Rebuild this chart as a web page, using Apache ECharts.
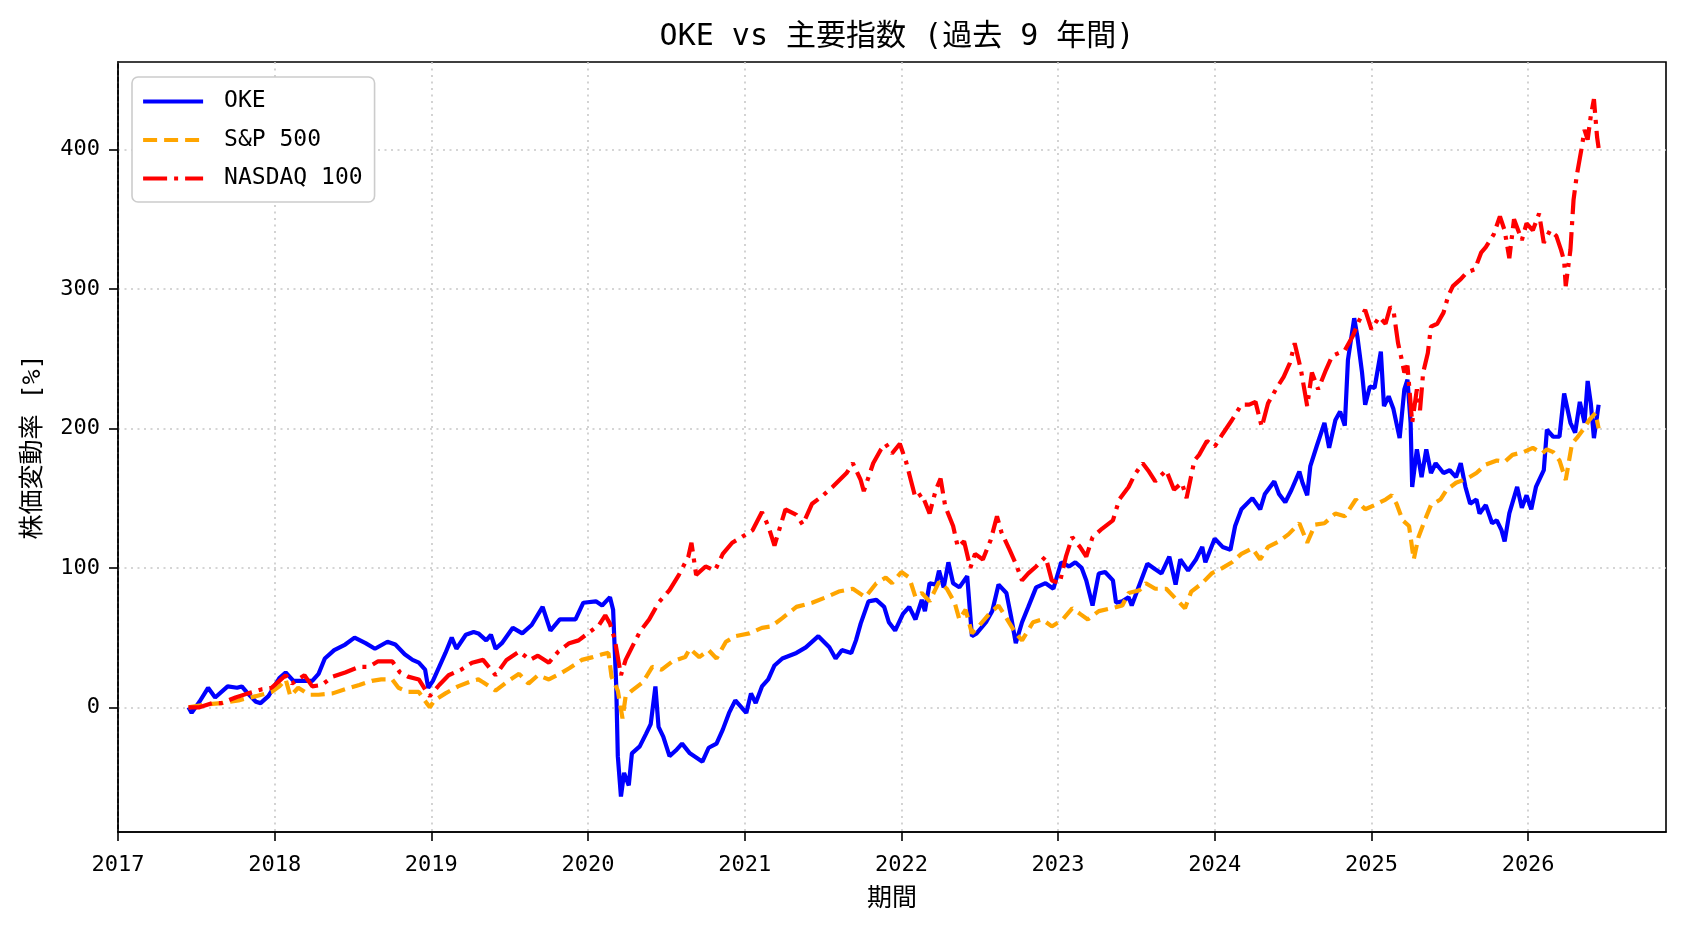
<!DOCTYPE html>
<html>
<head>
<meta charset="utf-8">
<script src="https://cdn.jsdelivr.net/npm/echarts@6/dist/echarts.min.js"></script>
<style>
  html, body { margin: 0; padding: 0; background: #fff; }
  #chart { width: 1688px; height: 932px; }
</style>
</head>
<body>
<div id="chart"></div>
<script>
// x = decimal year, y = % change from start
const yearTicks = [2017, 2018, 2019, 2020, 2021, 2022, 2023, 2024, 2025, 2026];
const valueTicks = [0, 100, 200, 300, 400];

const oke = [
  [2017.45,0],[2017.47,-4],[2017.52,4],[2017.575,14],[2017.62,7],[2017.70,15],[2017.76,14],[2017.79,15],[2017.82,11],[2017.88,4],[2017.91,3],[2017.96,8],
  [2018.03,21],[2018.07,25],[2018.12,19],[2018.17,19],[2018.24,19],[2018.28,24],[2018.32,35],[2018.38,41],[2018.45,45],[2018.51,50],[2018.58,46],[2018.64,42],[2018.72,47],[2018.77,45],[2018.83,38],[2018.88,34],[2018.92,32],[2018.96,27],[2018.98,14],
  [2019.01,19],[2019.05,29],[2019.09,39],[2019.13,50],[2019.16,42],[2019.22,52],[2019.27,54],[2019.30,53],[2019.35,48],[2019.38,52],[2019.41,42],[2019.45,46],[2019.52,57],[2019.58,53],[2019.64,59],[2019.71,72],[2019.76,55],[2019.82,63],[2019.88,63],[2019.92,63],[2019.97,75],
  [2020.05,76],[2020.09,73],[2020.14,79],[2020.16,70],[2020.18,15],[2020.19,-35],[2020.21,-64],[2020.23,-47],[2020.26,-56],[2020.28,-33],[2020.33,-28],[2020.37,-19],[2020.40,-12],[2020.43,15],[2020.45,-14],[2020.48,-21],[2020.52,-35],[2020.56,-31],[2020.60,-26],[2020.65,-33],[2020.73,-39],[2020.77,-29],[2020.82,-26],[2020.86,-16],[2020.90,-4],[2020.94,5],
  [2021.01,-4],[2021.04,10],[2021.07,3],[2021.11,15],[2021.15,20],[2021.19,30],[2021.24,35],[2021.33,39],[2021.39,43],[2021.47,51],[2021.54,43],[2021.58,35],[2021.62,41],[2021.68,39],[2021.71,48],[2021.74,60],[2021.79,76],[2021.84,77],[2021.89,72],[2021.92,61],[2021.96,55],
  [2022.01,67],[2022.05,72],[2022.09,63],[2022.13,77],[2022.15,69],[2022.18,89],[2022.22,88],[2022.24,98],[2022.27,86],[2022.30,104],[2022.33,89],[2022.37,86],[2022.42,94],[2022.45,51],[2022.48,53],[2022.54,61],[2022.58,69],[2022.62,88],[2022.67,82],[2022.70,65],[2022.73,46],[2022.77,61],[2022.81,72],[2022.86,86],[2022.92,89],[2022.97,85],
  [2023.02,104],[2023.07,101],[2023.11,104],[2023.15,100],[2023.18,91],[2023.22,73],[2023.26,96],[2023.30,97],[2023.35,91],[2023.37,75],[2023.41,76],[2023.45,79],[2023.47,73],[2023.52,88],[2023.57,103],[2023.62,99],[2023.66,96],[2023.71,108],[2023.75,88],[2023.78,106],[2023.83,98],[2023.88,106],[2023.92,115],[2023.94,104],
  [2024.00,121],[2024.05,115],[2024.10,113],[2024.13,130],[2024.17,142],[2024.24,150],[2024.29,142],[2024.32,153],[2024.38,162],[2024.41,153],[2024.45,147],[2024.49,156],[2024.54,169],[2024.56,161],[2024.59,152],[2024.61,173],[2024.65,187],[2024.70,204],[2024.73,186],[2024.77,206],[2024.80,212],[2024.83,202],[2024.85,249],[2024.89,279],[2024.91,266],[2024.94,240],[2024.96,217],[2024.99,230],
  [2025.02,229],[2025.06,255],[2025.08,216],[2025.11,223],[2025.14,214],[2025.18,193],[2025.21,228],[2025.23,235],[2025.25,204],[2025.26,158],[2025.29,185],[2025.32,165],[2025.35,185],[2025.38,168],[2025.41,175],[2025.46,168],[2025.50,170],[2025.54,165],[2025.57,175],[2025.60,158],[2025.63,146],[2025.67,149],[2025.69,139],[2025.73,145],[2025.77,132],[2025.80,134],[2025.83,127],[2025.85,119],[2025.88,139],[2025.93,158],[2025.96,143],[2025.99,152],
  [2026.02,142],[2026.05,158],[2026.10,170],[2026.12,199],[2026.16,194],[2026.20,194],[2026.23,225],[2026.27,204],[2026.30,197],[2026.33,219],[2026.36,204],[2026.38,234],[2026.40,218],[2026.42,193],[2026.45,217]
];

const sp500 = [
  [2017.45,0],[2017.56,2],[2017.66,3],[2017.77,5],[2017.88,8],[2017.98,11],
  [2018.03,15],[2018.07,20],[2018.10,8],[2018.15,14],[2018.22,9],[2018.28,9],[2018.37,10],[2018.45,13],[2018.54,16],[2018.62,19],[2018.68,20],[2018.75,20],[2018.79,14],[2018.85,11],[2018.92,11],[2018.97,3],[2018.99,0],
  [2019.02,5],[2019.09,10],[2019.17,15],[2019.26,19],[2019.30,20],[2019.33,18],[2019.41,12],[2019.48,18],[2019.56,24],[2019.62,17],[2019.68,23],[2019.75,20],[2019.82,24],[2019.88,28],[2019.96,34],
  [2020.03,36],[2020.09,38],[2020.13,39],[2020.15,22],[2020.19,12],[2020.22,-8],[2020.24,8],[2020.28,12],[2020.35,18],[2020.41,29],[2020.47,27],[2020.54,33],[2020.62,36],[2020.65,42],[2020.71,36],[2020.77,41],[2020.82,35],[2020.88,47],[2020.94,51],
  [2021.03,53],[2021.11,57],[2021.17,58],[2021.24,64],[2021.33,72],[2021.43,75],[2021.52,79],[2021.60,83],[2021.69,85],[2021.77,79],[2021.84,89],[2021.90,93],[2021.94,89],
  [2022.00,97],[2022.05,93],[2022.09,79],[2022.13,82],[2022.18,76],[2022.24,90],[2022.29,85],[2022.34,75],[2022.37,63],[2022.41,70],[2022.45,53],[2022.50,59],[2022.56,67],[2022.62,73],[2022.67,64],[2022.73,53],[2022.77,48],[2022.84,61],[2022.90,63],[2022.96,58],
  [2023.03,63],[2023.09,71],[2023.14,67],[2023.19,63],[2023.26,69],[2023.34,71],[2023.41,73],[2023.45,82],[2023.52,84],[2023.56,89],[2023.62,85],[2023.69,85],[2023.75,78],[2023.81,71],[2023.85,83],[2023.92,89],[2023.98,96],
  [2024.05,100],[2024.11,104],[2024.17,110],[2024.24,114],[2024.29,106],[2024.34,115],[2024.41,119],[2024.47,124],[2024.54,132],[2024.59,118],[2024.64,131],[2024.70,132],[2024.77,139],[2024.83,137],[2024.90,149],[2024.96,142],
  [2025.02,145],[2025.09,149],[2025.13,152],[2025.16,146],[2025.20,134],[2025.24,130],[2025.27,106],[2025.30,122],[2025.34,134],[2025.38,145],[2025.44,149],[2025.48,156],[2025.54,161],[2025.61,164],[2025.67,168],[2025.73,174],[2025.80,177],[2025.85,176],[2025.90,181],[2025.97,183],
  [2026.03,186],[2026.09,182],[2026.12,185],[2026.16,183],[2026.20,177],[2026.24,163],[2026.28,189],[2026.31,193],[2026.35,199],[2026.39,206],[2026.43,211],[2026.45,200]
];

const nasdaq100 = [
  [2017.45,0],[2017.52,0],[2017.60,3],[2017.66,3],[2017.75,7],[2017.83,10],[2017.92,13],[2017.98,14],
  [2018.03,19],[2018.07,23],[2018.11,17],[2018.19,23],[2018.24,15],[2018.30,16],[2018.37,22],[2018.45,25],[2018.54,29],[2018.60,29],[2018.66,33],[2018.75,33],[2018.80,25],[2018.85,22],[2018.92,20],[2018.97,11],[2018.99,8],
  [2019.05,16],[2019.11,23],[2019.19,27],[2019.26,32],[2019.33,34],[2019.41,23],[2019.48,34],[2019.56,40],[2019.63,34],[2019.68,37],[2019.75,32],[2019.81,40],[2019.88,46],[2019.94,48],
  [2020.01,54],[2020.07,59],[2020.11,66],[2020.14,60],[2020.17,49],[2020.19,36],[2020.21,23],[2020.24,34],[2020.28,43],[2020.33,54],[2020.39,63],[2020.45,75],[2020.52,84],[2020.58,95],[2020.64,108],[2020.66,118],[2020.69,95],[2020.75,101],[2020.81,98],[2020.86,110],[2020.92,118],[2020.98,122],
  [2021.05,127],[2021.11,140],[2021.15,130],[2021.19,116],[2021.26,142],[2021.33,138],[2021.37,131],[2021.43,146],[2021.49,151],[2021.56,158],[2021.65,168],[2021.69,175],[2021.74,163],[2021.76,155],[2021.82,175],[2021.87,185],[2021.90,189],[2021.94,182],[2021.99,189],
  [2022.03,176],[2022.06,163],[2022.09,150],[2022.13,153],[2022.18,139],[2022.22,156],[2022.25,164],[2022.28,144],[2022.33,130],[2022.36,115],[2022.40,119],[2022.44,100],[2022.47,110],[2022.52,106],[2022.57,120],[2022.61,137],[2022.64,125],[2022.69,113],[2022.73,103],[2022.77,91],[2022.81,96],[2022.86,101],[2022.92,108],[2022.96,91],
  [2023.01,89],[2023.05,108],[2023.09,122],[2023.14,115],[2023.18,108],[2023.22,122],[2023.28,128],[2023.35,134],[2023.39,149],[2023.45,158],[2023.49,167],[2023.54,175],[2023.58,169],[2023.62,162],[2023.69,170],[2023.74,156],[2023.79,161],[2023.82,150],[2023.87,177],[2023.90,181],[2023.95,191],
  [2024.00,187],[2024.05,196],[2024.11,206],[2024.17,217],[2024.22,217],[2024.26,219],[2024.30,201],[2024.34,218],[2024.39,228],[2024.44,237],[2024.48,247],[2024.51,261],[2024.55,242],[2024.59,216],[2024.62,240],[2024.66,228],[2024.71,242],[2024.75,252],[2024.79,254],[2024.83,256],[2024.88,266],[2024.92,277],[2024.96,285],
  [2025.00,271],[2025.05,280],[2025.09,275],[2025.12,287],[2025.14,285],[2025.17,261],[2025.19,251],[2025.21,240],[2025.23,245],[2025.26,204],[2025.29,228],[2025.31,213],[2025.33,240],[2025.36,254],[2025.38,273],[2025.42,275],[2025.46,283],[2025.49,295],[2025.52,302],[2025.57,307],[2025.61,312],[2025.66,314],[2025.70,326],[2025.73,330],[2025.78,339],[2025.82,352],[2025.85,342],[2025.88,322],[2025.91,350],[2025.96,335],[2025.99,347],
  [2026.03,342],[2026.07,354],[2026.10,333],[2026.14,342],[2026.18,338],[2026.21,328],[2026.23,320],[2026.24,302],[2026.27,328],[2026.29,364],[2026.31,381],[2026.34,400],[2026.36,414],[2026.38,407],[2026.40,424],[2026.42,436],[2026.44,409],[2026.45,401]
];

const FONT = "'DejaVu Sans Mono', 'Noto Sans CJK JP', sans-serif";
const gridLine = { show: true, lineStyle: { color: '#c8c8c8', width: 1.6, type: [2, 4.5] } };
const blackLine = { show: true, onZero: false, lineStyle: { color: '#000', width: 1.6 } };
const isTick = (ticks, v) => ticks.some(t => Math.abs(t - v) < 1e-6);

const chart = echarts.init(document.getElementById('chart'), null, { renderer: 'canvas' });
chart.setOption({
  animation: false,
  backgroundColor: '#fff',
  title: {
    text: 'OKE vs 主要指数 (過去 9 年間)',
    left: 892, top: 17, textAlign: 'center',
    textStyle: { fontFamily: FONT, fontSize: 30, fontWeight: 'normal', color: '#000' }
  },
  grid: { left: 118, right: 22, top: 62, bottom: 100, show: true, borderColor: '#000', borderWidth: 1.6 },
  legend: {
    orient: 'vertical', left: 132, top: 77,
    itemWidth: 60, itemHeight: 14, itemGap: 15.5,
    padding: [13, 12, 12, 9],
    backgroundColor: '#fff', borderColor: '#cccccc', borderWidth: 1.6, borderRadius: 6,
    itemStyle: { opacity: 0 },
    lineStyle: { width: 4.2 },
    textStyle: { fontFamily: FONT, fontSize: 23, color: '#000', padding: [0, 0, 0, 16] },
    data: ['OKE', 'S&P 500', 'NASDAQ 100']
  },
  xAxis: {
    type: 'value', min: 2017, max: 2026.88, interval: 1,
    name: '期間', nameLocation: 'middle', nameGap: 55,
    nameTextStyle: { fontFamily: FONT, fontSize: 25, color: '#000' },
    axisLine: blackLine,
    axisTick: { show: true, length: 9, lineStyle: { color: '#000', width: 1.6 }, customValues: yearTicks },
    axisLabel: {
      fontFamily: FONT, fontSize: 22, color: '#000', margin: 22, customValues: yearTicks,
      formatter: v => (isTick(yearTicks, v) ? String(Math.round(v)) : '')
    },
    splitLine: gridLine
  },
  yAxis: {
    type: 'value', min: -89.4, max: 462.7,
    name: '株価変動率 [%]', nameLocation: 'middle', nameGap: 72, nameRotate: 90,
    nameTextStyle: { fontFamily: FONT, fontSize: 25, color: '#000' },
    axisLine: blackLine,
    axisTick: { show: true, length: 9, lineStyle: { color: '#000', width: 1.6 }, customValues: valueTicks },
    axisLabel: {
      fontFamily: FONT, fontSize: 22, color: '#000', margin: 18, customValues: valueTicks,
      formatter: v => (isTick(valueTicks, v) ? String(Math.round(v)) : '')
    },
    splitLine: gridLine
  },
  series: [
    { name: 'OKE', type: 'line', data: oke, symbol: 'none', showSymbol: false,
      lineStyle: { color: '#0000ff', width: 4.2 }, itemStyle: { color: '#0000ff' } },
    { name: 'S&P 500', type: 'line', data: sp500, symbol: 'none', showSymbol: false,
      lineStyle: { color: '#ffa500', width: 4.2, type: [14, 7] }, itemStyle: { color: '#ffa500' } },
    { name: 'NASDAQ 100', type: 'line', data: nasdaq100, symbol: 'none', showSymbol: false,
      lineStyle: { color: '#ff0000', width: 4.2, type: [24, 7, 4, 7] }, itemStyle: { color: '#ff0000' } }
  ]
});
</script>
</body>
</html>
